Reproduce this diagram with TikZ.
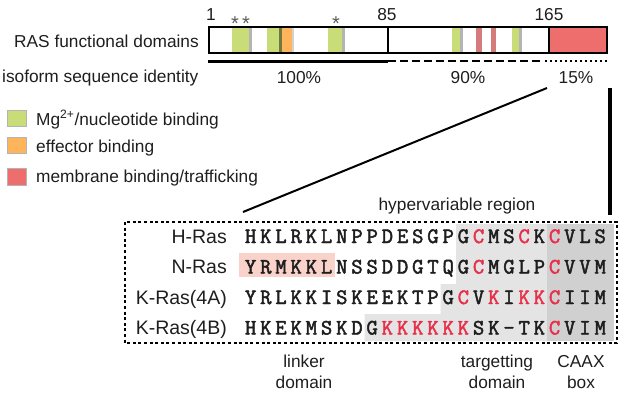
\documentclass[tikz,border=0pt]{standalone}
\usepackage{fontspec}
\setmainfont{Liberation Sans}
\newfontfamily\seqfont{Latin Modern Mono}[FakeBold=2.2]
\definecolor{mgreen}{HTML}{C8DC78}
\definecolor{morange}{HTML}{FDB45A}
\definecolor{mred}{HTML}{EE6E6E}
\definecolor{mredthin}{HTML}{D47B7B}
\definecolor{seqred}{HTML}{E8304A}
\definecolor{pinkhl}{HTML}{F9D2CA}
\definecolor{lgray}{HTML}{E4E4E4}
\definecolor{dgray}{HTML}{D0D0D0}
\definecolor{edgegray}{HTML}{B4B4B4}
\definecolor{txt}{HTML}{1E1E1E}
\newcommand\rc[1]{\textcolor{seqred}{#1}}
\newcommand\seqrow[3]{\foreach \ch [count=\k from 0] in {#3} {\node[seqch] (#1-\k) at ({243+15.2*(\k+0.5)},#2) {\ch};}}
\tikzset{
  lbl/.style={font=\fontsize{17.3}{20}\selectfont, text=txt, inner sep=0pt},
  rowlbl/.style={font=\fontsize{19.5}{22}\selectfont, text=txt, anchor=base east, inner sep=0pt},
  seqch/.style={font=\seqfont\bfseries\fontsize{22}{24}\selectfont, text=txt, anchor=base, inner sep=0pt},
  legsq/.style={draw=edgegray, line width=0.8pt},
}
\begin{document}
\begin{tikzpicture}[x=1pt,y=-1pt]
\useasboundingbox (0,0) rectangle (625,400);
% ---- domain bar ----
\fill[mgreen] (232,27) rectangle (251,53);
\fill[edgegray] (249,27) rectangle (251.5,53);
\fill[mgreen] (267,27) rectangle (279,53);
\fill[black!45!mgreen] (279,27) rectangle (282,53);
\fill[morange] (282,27) rectangle (292,53);
\fill[edgegray!60] (292,27) rectangle (294,53);
\fill[mgreen] (328,27) rectangle (343,53);
\fill[edgegray] (342,27) rectangle (344.5,53);
\fill[mgreen] (452,27) rectangle (461,53);
\fill[edgegray] (460,27) rectangle (462.5,53);
\fill[mredthin] (476,27) rectangle (482,53);
\fill[mredthin] (491,27) rectangle (496,53);
\fill[mgreen] (512,27) rectangle (520,53);
\fill[edgegray] (519,27) rectangle (521.5,53);
\fill[mred] (549,27) rectangle (607,53);
\draw[line width=2pt] (209,27) rectangle (607,53);
\draw[line width=2pt] (388,27) -- (388,53);
\draw[line width=2pt] (549,27) -- (549,53);
% numbers and stars
\node[lbl, anchor=base] (n1) at (211,20) {1};
\node[lbl, anchor=base] (n85) at (387,20) {85};
\node[lbl, anchor=base] (n165) at (549,20) {165};
\node[lbl, anchor=base, text=black!65, font=\fontsize{20}{20}\selectfont] (st1) at (235,30) {*};
\node[lbl, anchor=base, text=black!65, font=\fontsize{20}{20}\selectfont] (st2) at (246,30) {*};
\node[lbl, anchor=base, text=black!65, font=\fontsize{20}{20}\selectfont] (st3) at (336,30) {*};
\node[lbl, anchor=base east] (rasfd) at (199,47) {RAS functional domains};
% identity line
\draw[line width=3pt] (208,61) -- (388,61);
\draw[line width=1.6pt, dash pattern=on 8pt off 4pt] (388,61) -- (543,61);
\draw[line width=1.4pt, dash pattern=on 1.5pt off 3.5pt] (545,61) -- (608,61);
\node[lbl, anchor=base west] (iso) at (2,82) {isoform sequence identity};
\node[lbl, anchor=base] (p100) at (299,83) {100\%};
\node[lbl, anchor=base] (p90) at (468,83) {90\%};
\node[lbl, anchor=base] (p15) at (576,83) {15\%};
% legend
\draw[legsq, fill=mgreen] (7,110) rectangle (26,126);
\draw[legsq, fill=morange] (7,137) rectangle (26,153);
\draw[legsq, fill=mred] (7,168) rectangle (26,185);
\node[lbl, anchor=base west] (lg1) at (36,125) {Mg\textsuperscript{2+}/nucleotide binding};
\node[lbl, anchor=base west] (lg2) at (36,152) {effector binding};
\node[lbl, anchor=base west] (lg3) at (36,182) {membrane binding/trafficking};
% zoom connectors
\coordinate (za) at (547,88);
\coordinate (zb) at (243,212);
\coordinate (va) at (610,88);
\coordinate (vb) at (610,215);
\draw[line width=2pt] (za) -- (zb);
\draw[line width=4pt] (va) -- (vb);
\node[lbl, anchor=base] (hvr) at (457,210) {hypervariable region};
% shading
\fill[lgray] (456,224) -- (547,224) -- (547,341) -- (364.6,341) -- (364.6,314) -- (440.6,314) -- (440.6,284) -- (456,284) -- cycle;
\fill[dgray] (547,224) rectangle (614,341);
\fill[pinkhl] (239,253) rectangle (335,277);
% dotted box
\draw[line width=2.2pt, dash pattern=on 3pt off 2.6pt] (125,222) rectangle (617,343);
% rows
\node[rowlbl] (lh) at (227,243) {H-Ras};
\node[rowlbl] (ln) at (227,273.5) {N-Ras};
\node[rowlbl] (lka) at (227,304) {K-Ras(4A)};
\node[rowlbl] (lkb) at (227,334.5) {K-Ras(4B)};
\seqrow{h}{243}{H,K,L,R,K,L,N,P,P,D,E,S,G,P,G,\rc{C},M,S,\rc{C},K,\rc{C},V,L,S}
\seqrow{n}{273.5}{Y,R,M,K,K,L,N,S,S,D,D,G,T,Q,G,\rc{C},M,G,L,P,\rc{C},V,V,M}
\seqrow{ka}{304}{Y,R,L,K,K,I,S,K,E,E,K,T,P,G,\rc{C},V,\rc{K},I,\rc{K},\rc{K},\rc{C},I,I,M}
\seqrow{kb}{334.5}{H,K,E,K,M,S,K,D,G,\rc{K},\rc{K},\rc{K},\rc{K},\rc{K},\rc{K},S,K,-,T,K,\rc{C},V,I,M}
% bottom labels
\node[lbl, anchor=base] (lk1) at (304,367) {linker};
\node[lbl, anchor=base] (lk2) at (304,388) {domain};
\node[lbl, anchor=base] (tg1) at (497,367) {targetting};
\node[lbl, anchor=base] (tg2) at (497,388) {domain};
\node[lbl, anchor=base] (cx1) at (581,367) {CAAX};
\node[lbl, anchor=base] (cx2) at (581,388) {box};
\end{tikzpicture}
\end{document}
